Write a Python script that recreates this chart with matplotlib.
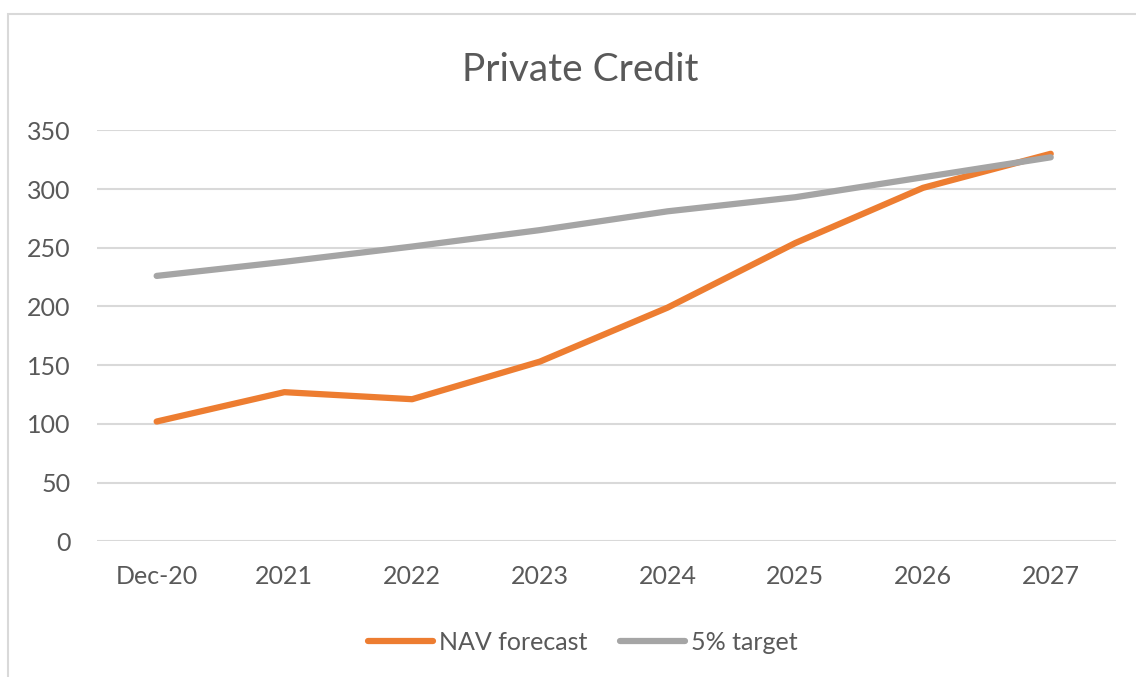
import matplotlib
matplotlib.use("Agg")
import matplotlib.pyplot as plt
from matplotlib.patches import Rectangle

categories = ["Dec-20", "2021", "2022", "2023", "2024", "2025", "2026", "2027"]
nav_forecast = [102, 127, 121, 153, 199, 254, 301, 330]
target_5pct = [226, 238, 251, 265, 281, 293, 310, 327]
y_ticks = [0, 50, 100, 150, 200, 250, 300, 350]

plt.rcParams['font.family'] = ['Lato', 'DejaVu Sans']
text_color = "#595959"

fig = plt.figure(figsize=(11.36, 6.77), dpi=100)
ax = fig.add_axes([97/1136, 1 - 541.3/677, (1116-97)/1136, (541.3-130.3)/677])

x = list(range(len(categories)))
ax.plot(x, nav_forecast, color="#ED7D31", lw=4.5, solid_capstyle="round", label="NAV forecast", zorder=3)
ax.plot(x, target_5pct, color="#A5A5A5", lw=4.5, solid_capstyle="round", label="5% target", zorder=3)

ax.set_xlim(-0.467, len(categories) - 1 + 0.511)
ax.set_ylim(0, 350)
ax.set_yticks(y_ticks)
ax.set_xticks(x)
ax.set_xticklabels(categories)
ax.grid(axis="y", color="#D9D9D9", lw=1.5)
ax.set_axisbelow(True)
for s in ax.spines.values():
    s.set_visible(False)
ax.tick_params(axis="both", length=0, colors=text_color, labelsize=18)
ax.tick_params(axis="y", pad=19)
ax.tick_params(axis="x", pad=17)

fig.text(580/1136, 1 - 70/677, "Private Credit", ha="center", va="center", fontsize=28, color=text_color)

leg = fig.legend(loc="center", bbox_to_anchor=(583/1136, 1 - 642/677), ncol=2, frameon=False,
                 fontsize=18, handlelength=2.6, handletextpad=0.25, columnspacing=1.3)
for t in leg.get_texts():
    t.set_color(text_color)

fig.patches.append(Rectangle((8/1136, -0.1), 1.2, 1.1 - 14/677, transform=fig.transFigure,
                             fill=False, edgecolor="#D9D9D9", lw=1.5))

fig.savefig("out.png", dpi=100)
